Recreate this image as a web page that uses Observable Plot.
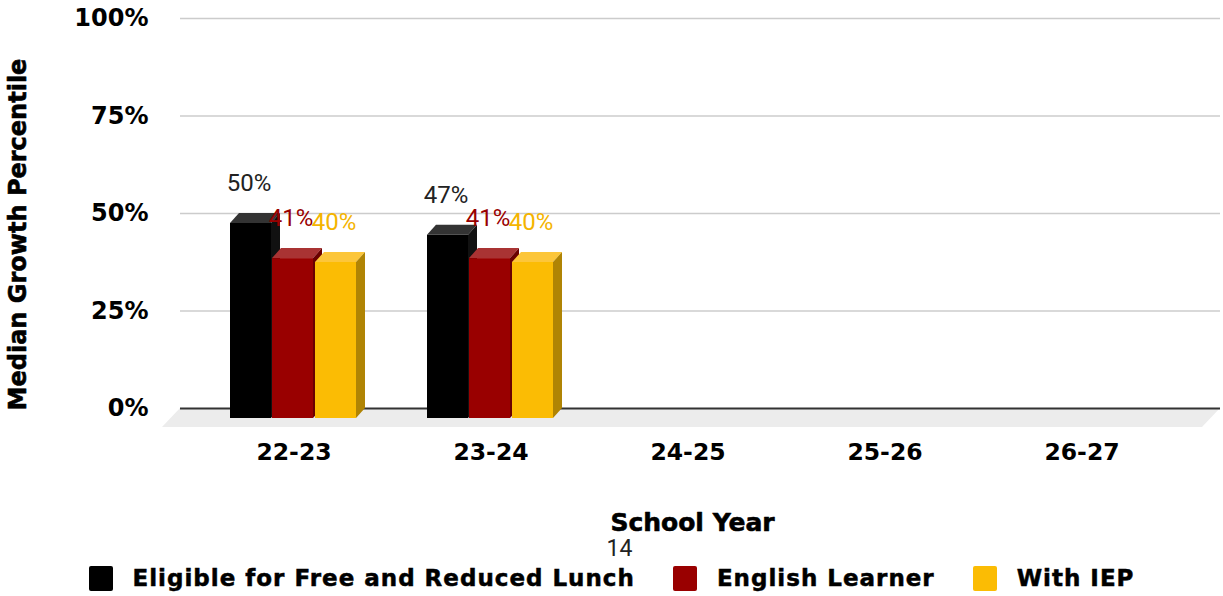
<!DOCTYPE html>
<html>
<head>
<meta charset="utf-8">
<script src="https://cdn.jsdelivr.net/npm/d3@7"></script>
<script src="https://cdn.jsdelivr.net/npm/@observablehq/plot@0.6"></script>
<style>
  html, body { margin: 0; padding: 0; background: #fff; }
  #chart { width: 1223px; }
  #page { position: relative; width: 1223px; height: 596px; overflow: hidden; }
  #num { position: absolute; left: 0; width: 1223px; top: 536px; text-align: center; padding-left: 16px; box-sizing: border-box;
         font-family: Roboto, "Liberation Sans", Arial, sans-serif; font-size: 23px; color: #222; line-height: 26px; }
  #legend { position: absolute; left: 0; width: 1223px; top: 565px; display: flex; justify-content: center; align-items: center; gap: 38px;
            font-family: "DejaVu Sans", sans-serif; font-weight: bold; font-size: 23px; letter-spacing: 1px; color: #000;
            -webkit-text-stroke: 0.5px #000; }
  .item { display: flex; align-items: center; }
  .sw { width: 24px; height: 25px; border-radius: 2px; margin-right: 20px; }
</style>
</head>
<body>
<div id="page">
  <div id="chart"></div>
  <div id="num">14</div>
  <div id="legend"></div>
</div>
<script>
// ---- data ----
const years = ["22-23", "23-24", "24-25", "25-26", "26-27"];
const seriesNames = ["Eligible for Free and Reduced Lunch", "English Learner", "With IEP"];
const frlValues = [50, 47, null, null, null];
const elValues = [41, 41, null, null, null];
const iepValues = [40, 40, null, null, null];
const yTicks = [0, 25, 50, 75, 100];
const yTitle = "Median Growth Percentile";
const xTitle = "School Year";

// ---- styles ----
const frontColors = ["#000000", "#990000", "#fbbc04"];
const topColors = ["#333333", "#a93333", "#fcc63a"];
const sideColors = ["#111111", "#6a0000", "#b08404"];
const labelColors = ["#222222", "#990000", "#f4b400"];

const seriesValues = [frlValues, elValues, iepValues];
const rows = seriesValues.map((vals, s) =>
  years.map((yr, i) => ({year: yr, series: s, value: vals[i]})).filter(d => d.value != null)
);

const W = 1223, H = 537;
const xRange = [195, 1180];
const bw = (xRange[1] - xRange[0]) / years.length;
const barLefts = [35, 77, 120];
const barW = 41;
const DX = 9, DY = 10; // depth offset (front -> back)

const ns = "http://www.w3.org/2000/svg";
function poly(pts, fill) {
  const p = document.createElementNS(ns, "polygon");
  p.setAttribute("points", pts.map(d => d.join(",")).join(" "));
  p.setAttribute("fill", fill);
  return p;
}
function box3d(s) {
  return function(index, scales, values, dimensions, context, next) {
    const g = next(index, scales, values, dimensions, context);
    for (const r of Array.from(g.querySelectorAll("rect"))) {
      const x = +r.getAttribute("x"), y = +r.getAttribute("y");
      const w = +r.getAttribute("width"), h = +r.getAttribute("height");
      g.appendChild(poly([[x, y], [x + w, y], [x + w + DX, y - DY], [x + DX, y - DY]], topColors[s]));
      g.appendChild(poly([[x + w, y], [x + w + DX, y - DY], [x + w + DX, y + h - DY], [x + w, y + h]], sideColors[s]));
    }
    return g;
  };
}
function floor(index, scales, values, dimensions, context) {
  const g = document.createElementNS(ns, "g");
  const y0 = scales.y(0);
  const l = dimensions.marginLeft, r = dimensions.width - dimensions.marginRight;
  g.appendChild(poly([[l, y0], [r, y0], [r - 18, y0 + 19], [l - 18, y0 + 19]], "#ececec"));
  return g;
}

const heavy = {fontWeight: "bold", fontFamily: "DejaVu Sans", fill: "#000", stroke: "#000", strokeWidth: 0.6};

const marks = [
  Plot.ruleY([0], {render: floor}),
  Plot.gridY({ticks: yTicks.filter(t => t > 0), stroke: "#cccccc", strokeOpacity: 1, strokeWidth: 1.5}),
  Plot.ruleY([0], {stroke: "#333333", strokeWidth: 2}),
  Plot.axisY({ticks: yTicks, tickSize: 0, tickPadding: 32, tickFormat: d => d + "%", label: null,
              fontSize: 24, ...heavy}),
  Plot.axisX({tickSize: 0, tickPadding: 35, label: null, fontSize: 23.5, ...heavy}),
  Plot.text([yTitle], {frameAnchor: "left", textAnchor: "middle", dx: -162, dy: 21, rotate: -90, fontSize: 24,
              letterSpacing: 1, ...heavy}),
  Plot.text([xTitle], {frameAnchor: "bottom", dx: -8, dy: 114, fontSize: 25, lineAnchor: "middle", ...heavy})
];
rows.forEach((data, s) => {
  marks.push(Plot.barY(data, {
    x: "year", y: "value", fill: frontColors[s], dy: DY,
    insetLeft: barLefts[s], insetRight: bw - barLefts[s] - barW,
    render: box3d(s)
  }));
});
rows.forEach((data, s) => {
  marks.push(Plot.text(data, {
    x: "year", y: "value", text: d => d.value + "%", dy: -30,
    dx: barLefts[s] + barW / 2 - bw / 2 - 2,
    fill: labelColors[s], fontSize: 24, fontFamily: "Roboto, Liberation Sans, sans-serif", lineAnchor: "middle"
  }));
});

const chart = Plot.plot({
  width: W, height: H,
  marginLeft: 180, marginRight: 3, marginTop: 18, marginBottom: H - 408,
  style: {background: "#fff", overflow: "visible"},
  x: {domain: years, range: xRange, padding: 0, axis: null},
  y: {domain: [0, 100], axis: null},
  marks
});
document.getElementById("chart").appendChild(chart);

const legend = document.getElementById("legend");
seriesNames.forEach((name, s) => {
  const it = document.createElement("div");
  it.className = "item";
  const sw = document.createElement("div");
  sw.className = "sw";
  sw.style.background = frontColors[s];
  const t = document.createElement("span");
  t.textContent = name;
  it.appendChild(sw); it.appendChild(t);
  legend.appendChild(it);
});
</script>
</body>
</html>
